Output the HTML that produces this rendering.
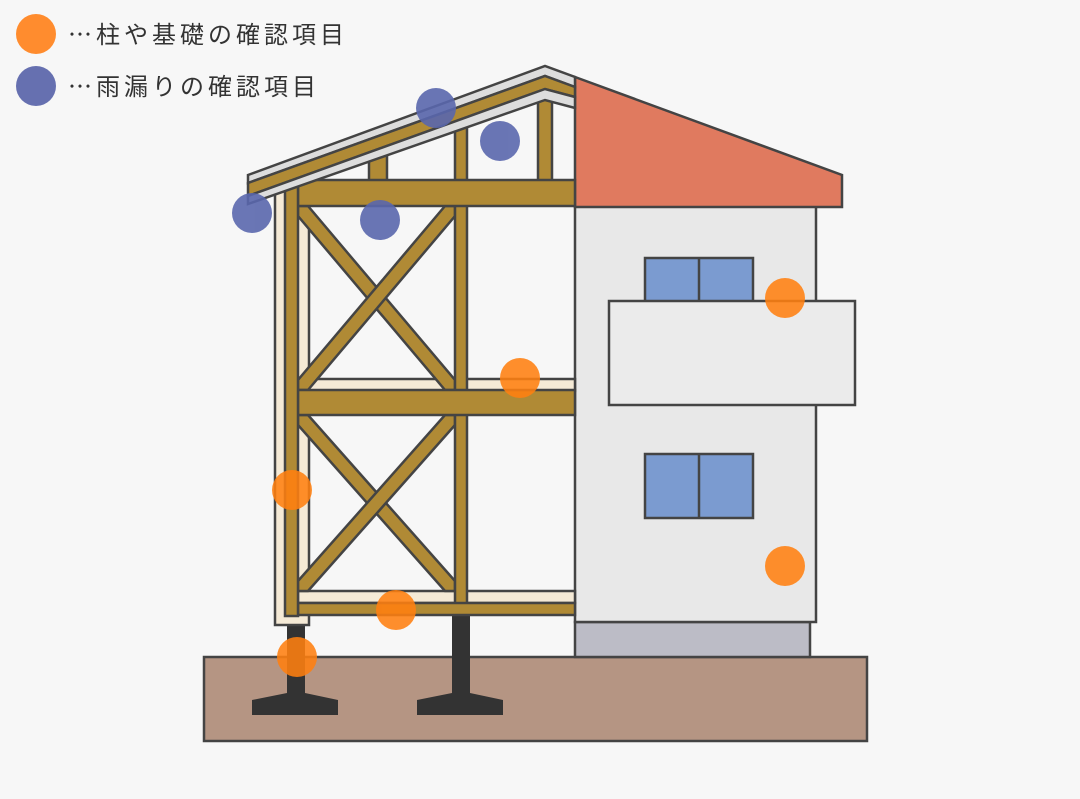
<!DOCTYPE html>
<html><head><meta charset="utf-8"><style>
html,body{margin:0;padding:0;background:#f7f7f7;}
svg{display:block}
</style></head><body>
<svg width="1080" height="799" viewBox="0 0 1080 799" xmlns="http://www.w3.org/2000/svg">
<rect width="1080" height="799" fill="#f7f7f7"/>
<g stroke="#444" stroke-width="2.5" stroke-linejoin="miter">
<rect x="204" y="657" width="663" height="84" fill="#b59583"/>
<rect x="287" y="624" width="18" height="80" fill="#333" stroke="none"/>
<polygon points="252,700 287,693 305,693 338,700 338,715 252,715" fill="#333" stroke="none"/>
<rect x="452" y="614" width="18" height="90" fill="#333" stroke="none"/>
<polygon points="417,700 452,693 470,693 503,700 503,715 417,715" fill="#333" stroke="none"/>
<rect x="575" y="622" width="235" height="35" fill="#bcbcc6"/>
<rect x="575" y="205" width="241" height="417" fill="#e8e8e8"/>
<polygon points="575,77 842,175 842,207 575,207" fill="#e07a5f"/>
<rect x="645" y="258" width="108" height="44" fill="#7b9bd0"/>
<line x1="699" y1="258" x2="699" y2="302"/>
<rect x="609" y="301" width="246" height="104" fill="#ebebeb"/>
<rect x="645" y="454" width="108" height="64" fill="#7b9bd0"/>
<line x1="699" y1="454" x2="699" y2="518"/>
<rect x="275" y="190" width="34" height="435" fill="#f5ead6"/>
<rect x="298" y="379" width="277" height="12" fill="#f5ead6"/>
<rect x="298" y="591" width="277" height="12" fill="#f5ead6"/>
<polygon points="298,206 308,206 455,380 455,390 445,390 298,216" fill="#b08a35"/>
<polygon points="455,206 455,216 308,390 298,390 298,380 445,206" fill="#b08a35"/>
<polygon points="298,415 308,415 455,581 455,591 445,591 298,425" fill="#b08a35"/>
<polygon points="455,415 455,425 308,591 298,591 298,581 445,415" fill="#b08a35"/>
<rect x="369" y="140" width="18" height="42" fill="#b08a35"/>
<rect x="455" y="110" width="12" height="494" fill="#b08a35"/>
<rect x="538" y="86" width="14" height="96" fill="#b08a35"/>
<rect x="298" y="180" width="277" height="26" fill="#b08a35"/>
<rect x="298" y="390" width="277" height="25" fill="#b08a35"/>
<rect x="298" y="603" width="277" height="12" fill="#b08a35"/>
<rect x="285" y="185" width="13" height="431" fill="#b08a35"/>
<polygon points="248,175 545,66 575,77 575,87 545,76 248,183" fill="#ddd"/>
<polygon points="248,183 545,76 575,87 575,97 545,89 248,196" fill="#b08a35"/>
<polygon points="248,196 545,89 575,97 575,108 545,100 248,204" fill="#ddd"/>
</g>
<g fill="#ff7f10" opacity="0.88">
<circle cx="785" cy="298" r="20"/><circle cx="520" cy="378" r="20"/>
<circle cx="292" cy="490" r="20"/><circle cx="396" cy="610" r="20"/>
<circle cx="297" cy="657" r="20"/><circle cx="785" cy="566" r="20"/>
</g>
<g fill="#5a67ad" opacity="0.9">
<circle cx="436" cy="108" r="20"/><circle cx="500" cy="141" r="20"/>
<circle cx="252" cy="213" r="20"/><circle cx="380" cy="220" r="20"/>
</g>
<circle cx="36" cy="34" r="20" fill="#ff8c2e"/>
<circle cx="36" cy="86" r="20" fill="#6670b0"/>
<g font-family="'Noto Sans CJK JP',sans-serif" font-size="24" fill="#333" letter-spacing="4">
<text x="68" y="43">⋯柱や基礎の確認項目</text>
<text x="68" y="95">⋯雨漏りの確認項目</text>
</g>
</svg>
</body></html>
